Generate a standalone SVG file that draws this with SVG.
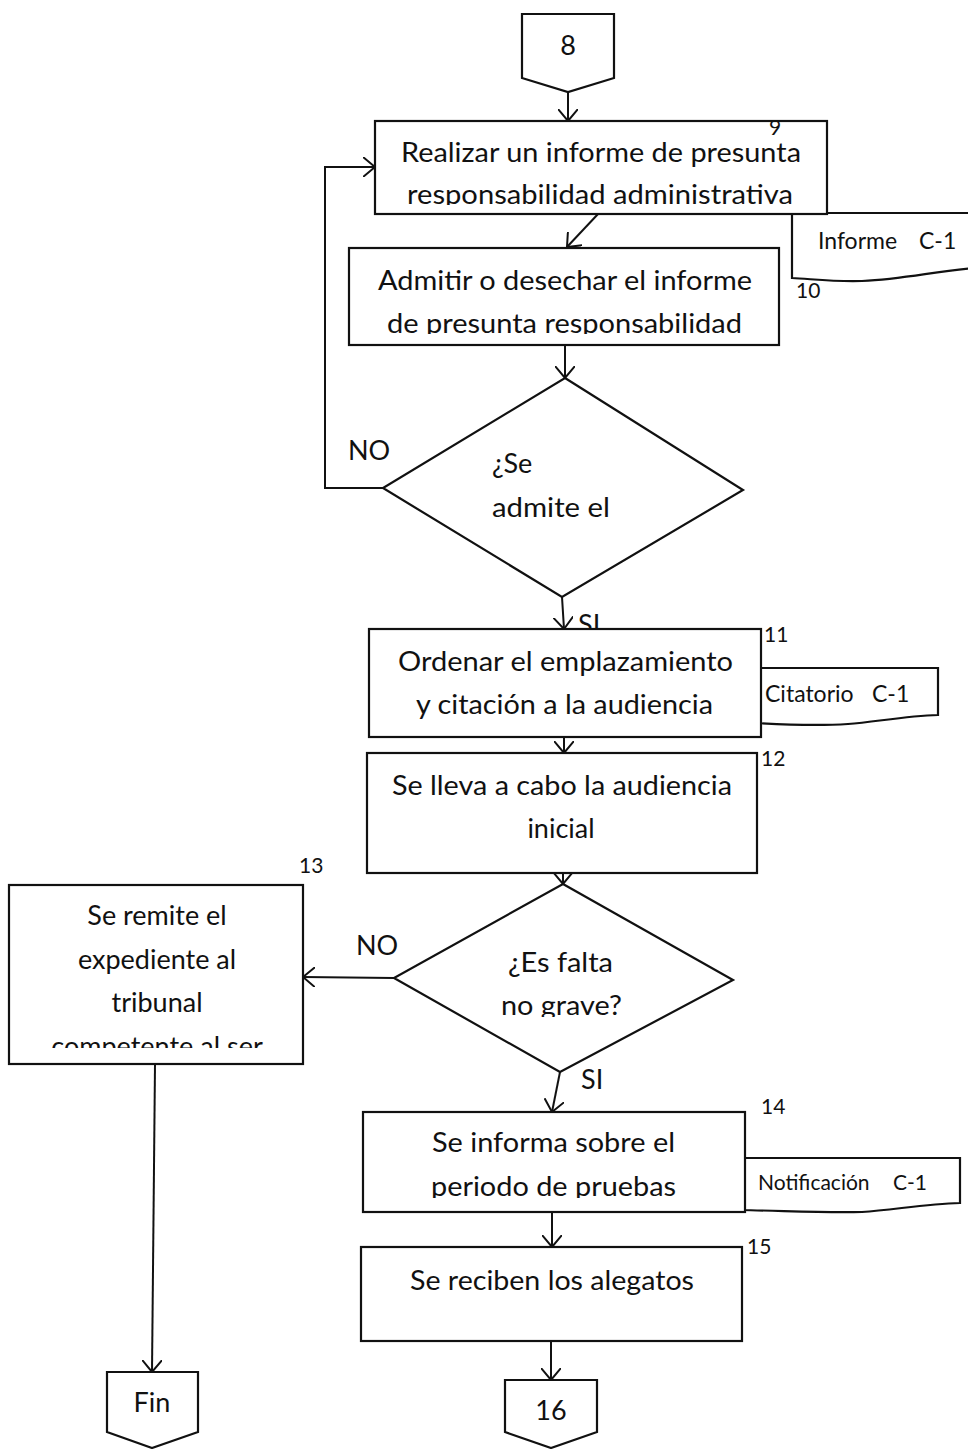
<svg xmlns="http://www.w3.org/2000/svg" width="968" height="1449" viewBox="0 0 968 1449">
  <style>
    .shape { fill: #fff; stroke: #111; stroke-width: 2.2; }
    .line { fill: none; stroke: #111; stroke-width: 2; }
    .t { font-family: Lato, "Liberation Sans", sans-serif; font-size: 27px; fill: #111; }
    .doc { font-family: Lato, "Liberation Sans", sans-serif; font-size: 21px; fill: #111; }
    .doc.big { font-size: 23px; }
    .num { font-family: Lato, "Liberation Sans", sans-serif; font-size: 21px; fill: #111; }
  </style>
  <defs>
    <marker id="arrow" viewBox="0 0 12 20" refX="12" refY="10" markerWidth="12" markerHeight="20" markerUnits="userSpaceOnUse" orient="auto">
      <path d="M0,0 L12,10 L0,20" fill="none" stroke="#111" stroke-width="2"/>
    </marker>
    <clipPath id="clip9"><rect x="375" y="121" width="452" height="84"/></clipPath>
    <clipPath id="clip10"><rect x="349" y="248" width="430" height="86"/></clipPath>
    <clipPath id="clipd2"><rect x="394" y="884" width="339" height="133"/></clipPath>
    <clipPath id="clip13"><rect x="9" y="885" width="294" height="163"/></clipPath>
    <clipPath id="clip14"><rect x="363" y="1112" width="382" height="86"/></clipPath>
  </defs>
  <rect width="968" height="1449" fill="#fff"/>

  <!-- flow lines -->
  <g id="connectors">
    <line class="line" x1="568" y1="92" x2="568" y2="121" marker-end="url(#arrow)"/>
    <line class="line" x1="598" y1="214" x2="567" y2="247" marker-end="url(#arrow)"/>
    <line class="line" x1="565" y1="345" x2="565" y2="378" marker-end="url(#arrow)"/>
    <polyline class="line" points="383,488 325,488 325,167 375,167" marker-end="url(#arrow)"/>
    <line class="line" x1="562" y1="597" x2="564" y2="629" marker-end="url(#arrow)"/>
    <line class="line" x1="564" y1="737" x2="564" y2="753" marker-end="url(#arrow)"/>
    <line class="line" x1="563" y1="873" x2="563" y2="884" marker-end="url(#arrow)"/>
    <line class="line" x1="394" y1="978" x2="303" y2="977" marker-end="url(#arrow)"/>
    <line class="line" x1="155" y1="1064" x2="152" y2="1372" marker-end="url(#arrow)"/>
    <line class="line" x1="560" y1="1072" x2="552" y2="1112" marker-end="url(#arrow)"/>
    <line class="line" x1="552" y1="1212" x2="552" y2="1247" marker-end="url(#arrow)"/>
    <line class="line" x1="551" y1="1341" x2="551" y2="1380" marker-end="url(#arrow)"/>
    <text class="t" x="348" y="460">NO</text>
    <text class="t" x="578" y="634">SI</text>
    <text class="t" x="356" y="955">NO</text>
    <text class="t" x="581" y="1089">SI</text>
  </g>

  <!-- off-page connector 8 -->
  <g id="n8">
    <path class="shape" d="M522,14 H614 V78 L568,92 L522,78 Z"/>
    <text class="t" x="568" y="55" text-anchor="middle">8</text>
  </g>

  <!-- document: Informe -->
  <g id="docInforme">
    <path class="shape" d="M792,213 H975 V268 C935,271 905,279 862,281 C835,282 812,279 792,278 Z"/>
    <text class="doc big" x="818" y="249">Informe</text>
    <text class="doc big" x="919" y="249">C-1</text>
  </g>

  <!-- step 9 -->
  <g id="n9">
    <rect class="shape" x="375" y="121" width="452" height="93"/>
    <g clip-path="url(#clip9)">
      <text class="t" x="401" y="162" textLength="400" lengthAdjust="spacingAndGlyphs">Realizar un informe de presunta</text>
      <text class="t" x="407" y="204" textLength="386" lengthAdjust="spacingAndGlyphs">responsabilidad administrativa</text>
    </g>
    <text class="num" x="769" y="135">9</text>
  </g>

  <!-- step 10 -->
  <g id="n10">
    <rect class="shape" x="349" y="248" width="430" height="97"/>
    <g clip-path="url(#clip10)">
      <text class="t" x="378" y="290" textLength="374" lengthAdjust="spacingAndGlyphs">Admitir o desechar el informe</text>
      <text class="t" x="387" y="333" textLength="355" lengthAdjust="spacingAndGlyphs">de presunta responsabilidad</text>
    </g>
    <text class="num" x="796" y="298">10</text>
  </g>

  <!-- decision: admitted? -->
  <g id="d1">
    <polygon class="shape" points="565,378 743,490 562,597 383,488"/>
    <text class="t" x="492" y="473">¿Se</text>
    <text class="t" x="492" y="517" textLength="118" lengthAdjust="spacingAndGlyphs">admite el</text>
  </g>

  <!-- document: Citatorio -->
  <g id="docCitatorio">
    <path class="shape" d="M755,668 H938 V715 C905,716 875,722 848,724 C818,726 790,725 755,723 Z"/>
    <text class="doc big" x="765" y="702">Citatorio</text>
    <text class="doc big" x="872" y="702">C-1</text>
  </g>

  <!-- step 11 -->
  <g id="n11">
    <rect class="shape" x="369" y="629" width="392" height="108"/>
    <text class="t" x="398" y="671" textLength="335" lengthAdjust="spacingAndGlyphs">Ordenar el emplazamiento</text>
    <text class="t" x="416" y="714" textLength="297" lengthAdjust="spacingAndGlyphs">y citación a la audiencia</text>
    <text class="num" x="764" y="642">11</text>
  </g>

  <!-- step 12 -->
  <g id="n12">
    <rect class="shape" x="367" y="753" width="390" height="120"/>
    <text class="t" x="392" y="795" textLength="340" lengthAdjust="spacingAndGlyphs">Se lleva a cabo la audiencia</text>
    <text class="t" x="561" y="838" text-anchor="middle">inicial</text>
    <text class="num" x="761" y="766">12</text>
  </g>

  <!-- decision: minor fault? -->
  <g id="d2">
    <polygon class="shape" points="563,884 733,980 560,1072 394,978"/>
    <g clip-path="url(#clipd2)">
      <text class="t" x="508" y="972" textLength="105" lengthAdjust="spacingAndGlyphs">¿Es falta</text>
      <text class="t" x="501" y="1015" textLength="121" lengthAdjust="spacingAndGlyphs">no grave?</text>
    </g>
  </g>

  <!-- step 13 -->
  <g id="n13">
    <rect class="shape" x="9" y="885" width="294" height="179"/>
    <g clip-path="url(#clip13)">
      <text class="t" x="157" y="925" text-anchor="middle">Se remite el</text>
      <text class="t" x="157" y="969" text-anchor="middle">expediente al</text>
      <text class="t" x="157" y="1012" text-anchor="middle">tribunal</text>
      <text class="t" x="157" y="1056" text-anchor="middle">competente al ser</text>
    </g>
    <text class="num" x="299" y="873">13</text>
  </g>

  <!-- document: Notificación -->
  <g id="docNotificacion">
    <path class="shape" d="M740,1158 H960 V1203 C925,1204 893,1210 862,1212 C825,1213 790,1211 740,1210 Z"/>
    <text class="doc" x="758" y="1190">Notificación</text>
    <text class="doc" x="893" y="1190">C-1</text>
  </g>

  <!-- step 14 -->
  <g id="n14">
    <rect class="shape" x="363" y="1112" width="382" height="100"/>
    <g clip-path="url(#clip14)">
      <text class="t" x="432" y="1152" textLength="243" lengthAdjust="spacingAndGlyphs">Se informa sobre el</text>
      <text class="t" x="431" y="1196" textLength="245" lengthAdjust="spacingAndGlyphs">periodo de pruebas</text>
    </g>
    <text class="num" x="761" y="1114">14</text>
  </g>

  <!-- step 15 -->
  <g id="n15">
    <rect class="shape" x="361" y="1247" width="381" height="94"/>
    <text class="t" x="410" y="1290" textLength="284" lengthAdjust="spacingAndGlyphs">Se reciben los alegatos</text>
    <text class="num" x="747" y="1254">15</text>
  </g>

  <!-- end connector -->
  <g id="nFin">
    <path class="shape" d="M107,1372 H198 V1432 L152,1448 L107,1432 Z"/>
    <text class="t" x="152" y="1412" text-anchor="middle">Fin</text>
  </g>

  <!-- off-page connector 16 -->
  <g id="n16">
    <path class="shape" d="M505,1380 H597 V1432 L551,1448 L505,1432 Z"/>
    <text class="t" x="551" y="1420" text-anchor="middle">16</text>
  </g>
</svg>
